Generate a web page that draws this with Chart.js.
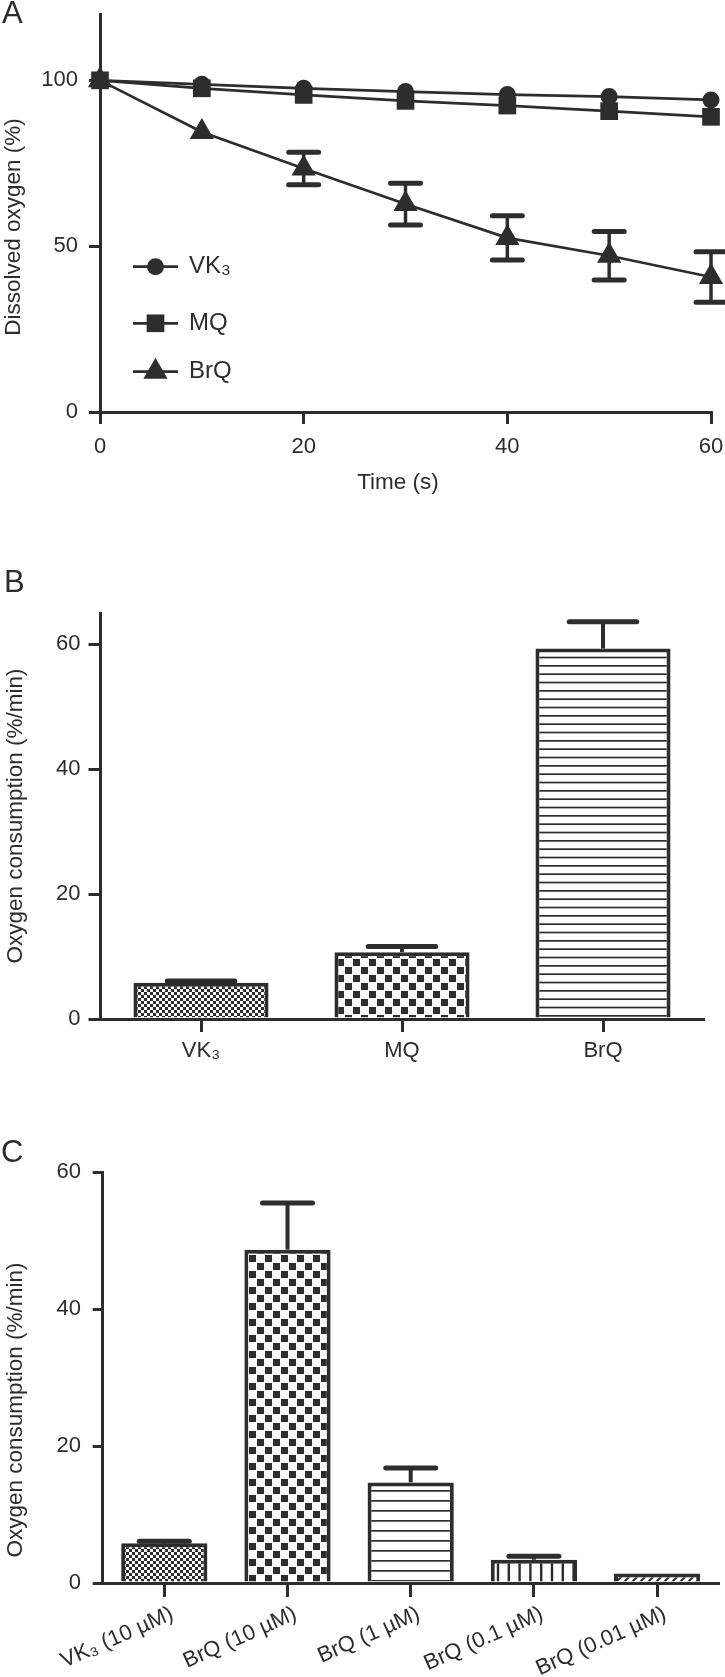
<!DOCTYPE html>
<html>
<head>
<meta charset="utf-8">
<title>Oxygen consumption</title>
<script src="https://cdn.jsdelivr.net/npm/chart.js@4.4.1/dist/chart.umd.min.js"></script>
<style>
  html, body { margin: 0; padding: 0; background: #fff; }
  #page { position: relative; width: 725px; height: 1677px; overflow: hidden;
          font-family: "Liberation Sans", Arial, Helvetica, sans-serif; color: #2d2d2d; }
  canvas { position: absolute; left: 0; }
  .letter { position: absolute; font-size: 31px; line-height: 31px; }
  .title { position: absolute; font-size: 22.5px; line-height: 1; white-space: nowrap; }
  .title.x { transform: translate(-50%, -50%); }
  .title.y { transform: translate(-50%, -50%) rotate(-90deg); }
</style>
</head>
<body>
<div id="page">
  <canvas id="chartA" width="725" height="500" style="top:0"></canvas>
  <canvas id="chartB" width="725" height="480" style="top:590px"></canvas>
  <canvas id="chartC" width="725" height="527" style="top:1150px"></canvas>

  <div class="letter" style="left:2px; top:-3px">A</div>
  <div class="letter" style="left:4px; top:566px">B</div>
  <div class="letter" style="left:1px; top:1136px">C</div>

  <div class="title y" style="left:13px; top:227px">Dissolved oxygen (%)</div>
  <div class="title x" style="left:398px; top:482px">Time (s)</div>
  <div class="title y" style="left:15px; top:816px">Oxygen consumption (%/min)</div>
  <div class="title y" style="left:15px; top:1410px">Oxygen consumption (%/min)</div>
</div>
<script>
// panel A: dissolved oxygen over time
const timeSec = [0, 10, 20, 30, 40, 50, 60];
const vk3Oxygen = [100, 98.8, 97.6, 96.6, 95.7, 95.1, 94.1];
const mqOxygen = [100, 97.6, 95.6, 93.8, 92.4, 90.7, 89.0];
const brqOxygen = [100, 84.4, 73.4, 62.7, 52.5, 47.1, 40.7];
const brqOxygenErr = [0, 0, 4.9, 6.3, 6.7, 7.3, 7.6];
const timeTicks = [0, 20, 40, 60];
const oxygenTicks = [0, 50, 100];

// panel B: consumption rate per compound
const compoundsB = ['VK₃', 'MQ', 'BrQ'];
const consumptionB = [5.8, 10.7, 59.3];
const consumptionBErr = [0.3, 0.9, 4.3];
const consumptionTicksB = [0, 20, 40, 60];

// panel C: consumption rate per dose
const dosesC = ['VK₃ (10 µM)', 'BrQ (10 µM)', 'BrQ (1 µM)', 'BrQ (0.1 µM)', 'BrQ (0.01 µM)'];
const consumptionC = [5.8, 48.7, 14.7, 3.4, 1.4];
const consumptionCErr = [0.3, 6.8, 2.1, 0.5, 0];
const consumptionTicksC = [0, 20, 40, 60];

const ink = '#2d2d2d';
const family = '"Liberation Sans", Arial, Helvetica, sans-serif';
const tickFont = { family: family, size: 22 };

// error bars, read from dataset.errors
const errorBars = {
  id: 'errorBars',
  afterDatasetsDraw(chart, args, opts) {
    const ctx = chart.ctx;
    const y = chart.scales.y;
    ctx.save();
    ctx.strokeStyle = ink;
    chart.data.datasets.forEach((ds, di) => {
      if (!ds.errors) return;
      chart.getDatasetMeta(di).data.forEach((el, i) => {
        const e = ds.errors[i];
        if (!e) return;
        const raw = ds.data[i];
        const v = typeof raw === 'object' ? raw.y : raw;
        const hi = y.getPixelForValue(v + e);
        const lo = opts.both ? y.getPixelForValue(v - e) : el.y;
        const half = opts.cap ? opts.cap / 2 : el.width * opts.capRatio / 2;
        ctx.lineCap = 'butt';
        ctx.lineWidth = opts.stem;
        ctx.beginPath();
        ctx.moveTo(el.x, hi);
        ctx.lineTo(el.x, lo);
        ctx.stroke();
        ctx.lineCap = 'round';
        ctx.lineWidth = opts.capWidth;
        ctx.beginPath();
        ctx.moveTo(el.x - half, hi);
        ctx.lineTo(el.x + half, hi);
        if (opts.both) {
          ctx.moveTo(el.x - half, lo);
          ctx.lineTo(el.x + half, lo);
        }
        ctx.stroke();
      });
    });
    ctx.restore();
  }
};

// legend drawn inside the plot area (line + marker + label)
const insideLegend = {
  id: 'insideLegend',
  afterDraw(chart, args, opts) {
    const ctx = chart.ctx;
    ctx.save();
    chart.data.datasets.forEach((ds, i) => {
      const y = opts.rows[i];
      ctx.strokeStyle = ink;
      ctx.lineWidth = ds.borderWidth;
      ctx.beginPath();
      ctx.moveTo(opts.x0, y);
      ctx.lineTo(opts.x1, y);
      ctx.stroke();
      ctx.fillStyle = ink;
      Chart.helpers.drawPoint(ctx, { pointStyle: ds.pointStyle, radius: ds.pointRadius, rotation: 0, borderWidth: 0 },
        (opts.x0 + opts.x1) / 2, y);
      ctx.font = opts.font;
      ctx.textBaseline = 'middle';
      ctx.textAlign = 'left';
      ctx.fillText(ds.label, opts.textX, y);
    });
    ctx.restore();
  }
};

function pattern(ctx, w, h, paint) {
  const c = document.createElement('canvas');
  c.width = w;
  c.height = h;
  const g = c.getContext('2d');
  g.fillStyle = '#fff';
  g.fillRect(0, 0, w, h);
  g.fillStyle = ink;
  g.strokeStyle = ink;
  paint(g);
  return ctx.createPattern(c, 'repeat');
}
const fineChecks = ctx => pattern(ctx, 6, 6, g => { g.fillRect(0, 0, 3, 3); g.fillRect(3, 3, 3, 3); });
const coarseChecks = ctx => pattern(ctx, 16, 16, g => { g.fillRect(1, 1, 7, 7); g.fillRect(9, 9, 7, 7); });
const hLines = (ctx, gap, n) => pattern(ctx, 4, Math.round(gap * n), g => {
  for (let k = 0; k < n; k++) g.fillRect(0, k * gap, 4, 1.7);
});
const vLines = (ctx, gap, n) => pattern(ctx, Math.round(gap * n), 4, g => {
  for (let k = 0; k < n; k++) g.fillRect(k * gap, 0, 2.4, 4);
});
const diagonal = ctx => pattern(ctx, 8, 8, g => {
  g.lineWidth = 2;
  g.beginPath();
  g.moveTo(0, 8); g.lineTo(8, 0);
  g.moveTo(-4, 4); g.lineTo(4, -4);
  g.moveTo(4, 12); g.lineTo(12, 4);
  g.stroke();
});

function yAxis(o) {
  return {
    min: 0,
    max: o.max,
    ticks: { color: ink, font: tickFont, padding: o.pad },
    grid: { drawOnChartArea: false, tickLength: o.tick, color: ink, lineWidth: 3 },
    border: { color: ink, width: 3 },
    afterBuildTicks: s => { s.ticks = o.ticks.map(v => ({ value: v })); },
    afterFit: s => { s.width = o.width; s.paddingTop = 0; s.paddingBottom = 0; }
  };
}

function categoryX(o) {
  return {
    type: 'category',
    offset: true,
    ticks: { color: ink, font: tickFont, padding: o.pad, autoSkip: false,
             minRotation: o.rot, maxRotation: o.rot, labelOffset: o.shift || 0 },
    grid: { offset: false, drawOnChartArea: false, tickLength: o.tick, color: ink, lineWidth: 3 },
    border: { color: ink, width: 3, z: 1 },
    afterFit: s => { s.height = o.height; s.paddingLeft = 0; s.paddingRight = 0; }
  };
}

const common = {
  responsive: false,
  animation: false,
  devicePixelRatio: 1,
  events: []
};

function series(label, values, style, r) {
  return {
    label: label,
    data: timeSec.map((t, i) => ({ x: t, y: values[i] })),
    borderColor: ink,
    backgroundColor: ink,
    borderWidth: 2.7,
    pointStyle: style,
    pointRadius: r,
    pointBackgroundColor: ink,
    pointBorderWidth: 0,
    tension: 0,
    clip: false
  };
}

// ---- A ----
const brqSeries = series('BrQ', brqOxygen, 'triangle', 14);
brqSeries.errors = brqOxygenErr;
new Chart(document.getElementById('chartA'), {
  type: 'line',
  data: {
    datasets: [
      series('VK₃', vk3Oxygen, 'circle', 8.5),
      series('MQ', mqOxygen, 'rect', 12.5),
      brqSeries
    ]
  },
  options: Object.assign({}, common, {
    layout: { padding: { top: 3, right: 13, left: 0, bottom: 0 } },
    plugins: {
      legend: { display: false },
      tooltip: { enabled: false },
      errorBars: { both: true, cap: 30, stem: 3.5, capWidth: 5 },
      insideLegend: { rows: [266.7, 323.3, 371.7], x0: 133, x1: 178, textX: 189, font: '24px ' + family }
    },
    scales: {
      x: {
        type: 'linear',
        min: 0,
        max: 60,
        ticks: { color: ink, font: tickFont, padding: 10, maxRotation: 0 },
        grid: { drawOnChartArea: false, tickLength: 12, color: ink, lineWidth: 3 },
        border: { color: ink, width: 3 },
        afterBuildTicks: s => { s.ticks = timeTicks.map(v => ({ value: v })); },
        afterFit: s => { s.height = 88; s.paddingLeft = 0; s.paddingRight = 0; }
      },
      y: yAxis({ max: 120, ticks: oxygenTicks, width: 100, tick: 11, pad: 11 })
    }
  }),
  plugins: [errorBars, insideLegend]
});

// ---- B ----
const ctxB = document.getElementById('chartB').getContext('2d');
new Chart(ctxB, {
  type: 'bar',
  data: {
    labels: compoundsB,
    datasets: [{
      data: consumptionB,
      errors: consumptionBErr,
      backgroundColor: [fineChecks(ctxB), coarseChecks(ctxB), hLines(ctxB, 25 / 3, 3)],
      borderColor: ink,
      borderWidth: 4,
      barPercentage: 0.672,
      categoryPercentage: 1
    }]
  },
  options: Object.assign({}, common, {
    layout: { padding: { top: 23, right: 21.5, left: 0, bottom: 0 } },
    plugins: {
      legend: { display: false },
      tooltip: { enabled: false },
      errorBars: { both: false, capRatio: 0.5, stem: 4, capWidth: 5 }
    },
    scales: {
      x: categoryX({ height: 51, tick: 13, pad: 6, rot: 0 }),
      y: yAxis({ max: 65, ticks: consumptionTicksB, width: 100.5, tick: 12, pad: 8 })
    }
  }),
  plugins: [errorBars]
});

// ---- C ----
const ctxC = document.getElementById('chartC').getContext('2d');
new Chart(ctxC, {
  type: 'bar',
  data: {
    labels: dosesC,
    datasets: [{
      data: consumptionC,
      errors: consumptionCErr,
      backgroundColor: [fineChecks(ctxC), coarseChecks(ctxC), hLines(ctxC, 10, 1), vLines(ctxC, 10.8, 5), diagonal(ctxC)],
      borderColor: ink,
      borderWidth: 4,
      barPercentage: 0.70,
      categoryPercentage: 1
    }]
  },
  options: Object.assign({}, common, {
    layout: { padding: { top: 22.3, right: 6.3, left: 0, bottom: 0 } },
    plugins: {
      legend: { display: false },
      tooltip: { enabled: false },
      errorBars: { both: false, capRatio: 0.58, stem: 4, capWidth: 5 }
    },
    scales: {
      x: categoryX({ height: 94, tick: 14, pad: 4, rot: 24, shift: 8 }),
      y: yAxis({ max: 60, ticks: consumptionTicksC, width: 102.7, tick: 10, pad: 11.7 })
    }
  }),
  plugins: [errorBars]
});
</script>
</body>
</html>
